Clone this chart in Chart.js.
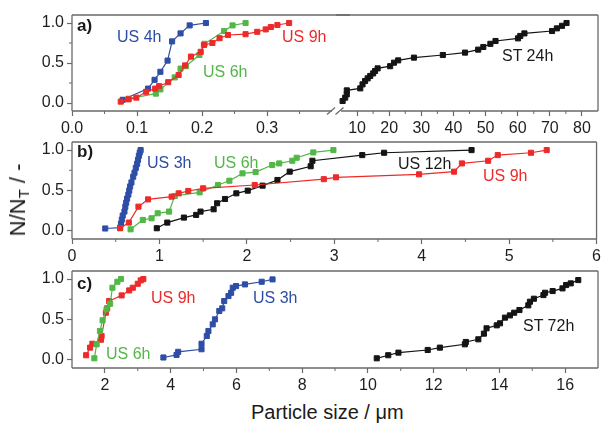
<!DOCTYPE html>
<html>
<head>
<meta charset="utf-8">
<script src="https://cdn.jsdelivr.net/npm/chart.js@4.4.1/dist/chart.umd.min.js"></script>
<style>
  body { margin: 0; background: #fff; }
  #wrap { position: relative; width: 604px; height: 423px; overflow: hidden; font-family: "Liberation Sans", Arial, sans-serif; color: #1a1a1a; }
  canvas { position: absolute; }
  .t { position: absolute; font-size: 16px; line-height: 1; white-space: nowrap; }
  .p { position: absolute; font-size: 17px; font-weight: bold; line-height: 1; }
  #ytitle { position: absolute; left: 19px; top: 200px; font-size: 22px; line-height: 1; white-space: nowrap; transform: translate(-50%, -50%) rotate(-90deg); }
  #ytitle sub { font-size: 15px; vertical-align: -4px; }
  #xtitle { position: absolute; left: 251px; top: 402px; font-size: 20px; line-height: 1; white-space: nowrap; }
</style>
</head>
<body>
<div id="wrap">
  <canvas id="aLeft" width="350" height="140" style="left:0;top:0"></canvas>
  <canvas id="aRight" width="268" height="140" style="left:336px;top:0"></canvas>
  <canvas id="chartB" width="604" height="140" style="left:0;top:128px"></canvas>
  <canvas id="chartC" width="604" height="140" style="left:0;top:257px"></canvas>

  <div class="p" style="left:77px;top:17px">a)</div>
  <div class="t" style="left:117px;top:29px;color:#2e4ea6">US 4h</div>
  <div class="t" style="left:282px;top:29px;color:#ed2a2a">US 9h</div>
  <div class="t" style="left:203px;top:64px;color:#52b747">US 6h</div>
  <div class="t" style="left:502px;top:48px">ST 24h</div>

  <div class="p" style="left:77px;top:143px">b)</div>
  <div class="t" style="left:147px;top:155px;color:#2e4ea6">US 3h</div>
  <div class="t" style="left:214px;top:155px;color:#52b747">US 6h</div>
  <div class="t" style="left:398px;top:156px">US 12h</div>
  <div class="t" style="left:483px;top:168px;color:#ed2a2a">US 9h</div>

  <div class="p" style="left:77px;top:275px">c)</div>
  <div class="t" style="left:151px;top:290px;color:#ed2a2a">US 9h</div>
  <div class="t" style="left:253px;top:290px;color:#2e4ea6">US 3h</div>
  <div class="t" style="left:106px;top:346px;color:#52b747">US 6h</div>
  <div class="t" style="left:523px;top:318px">ST 72h</div>

  <div id="ytitle">N/N<sub>T</sub> / -</div>
  <div id="xtitle">Particle size / &mu;m</div>
</div>
<script>
const BLUE = '#2e4ea6', RED = '#ed2a2a', GREEN = '#52b747', BLACK = '#141414';
const AXIS = '#6a6a6a';

// y axis (all panels)
const yTicks = [0, 0.5, 1.0];
const yMinor = [0.25, 0.75];

// panel a, left segment (0 - 0.4 um)
const aLeftTicks = [0.0, 0.1, 0.2, 0.3];
const aLeftMinor = [0.05, 0.15, 0.25, 0.35];
const a_US4h = [[0.078,0.04],[0.117,0.18],[0.127,0.29],[0.136,0.39],[0.147,0.53],[0.154,0.77],[0.167,0.87],[0.181,0.97],[0.206,1.0]];
const a_US6h = [[0.087,0.054],[0.129,0.117],[0.136,0.17],[0.158,0.32],[0.167,0.43],[0.175,0.46],[0.196,0.60],[0.204,0.74],[0.234,0.90],[0.247,0.97],[0.267,1.0]];
const a_US9h = [[0.075,0.017],[0.087,0.046],[0.099,0.067],[0.114,0.14],[0.128,0.18],[0.134,0.21],[0.148,0.26],[0.164,0.35],[0.174,0.47],[0.183,0.58],[0.198,0.64],[0.203,0.725],[0.216,0.75],[0.227,0.81],[0.24,0.85],[0.267,0.86],[0.285,0.89],[0.298,0.92],[0.306,0.95],[0.316,0.975],[0.334,1.0]];

// panel a, right segment (5 - 85 um)
const aRightTicks = [10, 20, 30, 40, 50, 60, 70, 80];
const aRightMinor = [15, 25, 35, 45, 55, 65, 75];
const a_ST24h = [[5.5,0.025],[6.3,0.067],[6.8,0.108],[6.8,0.158],[11.0,0.183],[11.7,0.233],[12.5,0.275],[13.3,0.308],[14.1,0.338],[15.0,0.37],[15.6,0.4],[16.4,0.433],[20.3,0.46],[21.5,0.504],[22.8,0.533],[27.7,0.567],[36.7,0.6],[43.6,0.63],[47.7,0.667],[49.3,0.70],[51.5,0.74],[53.1,0.775],[60.1,0.808],[60.8,0.838],[62.1,0.87],[70.7,0.9],[72.2,0.933],[73.8,0.965],[75.2,1.0]];

// panel b
const bTicks = [0, 1, 2, 3, 4, 5, 6];
const bMinor = [0.5, 1.5, 2.5, 3.5, 4.5, 5.5];
const b_US3h = [[0.38,0.03],[0.55,0.04],[0.56,0.09],[0.57,0.14],[0.58,0.19],[0.6,0.24],[0.61,0.3],[0.62,0.35],[0.63,0.4],[0.645,0.45],[0.655,0.5],[0.665,0.55],[0.68,0.6],[0.7,0.67],[0.715,0.72],[0.73,0.78],[0.745,0.83],[0.755,0.88],[0.765,0.93],[0.775,0.97],[0.785,1.0]];
const b_US6h = [[0.67,0.02],[0.81,0.136],[0.91,0.156],[0.98,0.218],[1.11,0.239],[1.175,0.432],[1.46,0.477],[1.67,0.568],[1.80,0.621],[1.95,0.712],[2.10,0.728],[2.29,0.815],[2.37,0.835],[2.52,0.868],[2.57,0.905],[2.76,0.971],[2.99,1.0]];
const b_US9h = [[0.55,0.033],[0.65,0.103],[0.76,0.30],[0.87,0.39],[1.14,0.424],[1.22,0.465],[1.33,0.494],[1.50,0.527],[2.09,0.568],[2.88,0.64],[3.02,0.663],[3.97,0.70],[4.37,0.733],[4.46,0.835],[4.76,0.868],[4.87,0.938],[5.25,0.967],[5.43,1.0]];
const b_US12h = [[0.97,0.033],[1.09,0.103],[1.28,0.165],[1.42,0.198],[1.47,0.239],[1.62,0.268],[1.66,0.342],[1.75,0.395],[1.88,0.465],[2.01,0.498],[2.18,0.56],[2.35,0.63],[2.49,0.733],[2.73,0.80],[2.75,0.868],[3.32,0.938],[3.57,0.967],[4.57,1.0]];

// panel c
const cTicks = [2, 4, 6, 8, 10, 12, 14, 16];
const cMinor = [3, 5, 7, 9, 11, 13, 15];
const c_US3h = [[3.78,0.03],[4.18,0.062],[4.23,0.1],[4.94,0.132],[4.94,0.2],[5.10,0.296],[5.15,0.358],[5.28,0.44],[5.35,0.502],[5.48,0.605],[5.57,0.638],[5.63,0.728],[5.76,0.79],[5.84,0.83],[5.89,0.893],[5.99,0.914],[6.26,0.934],[6.77,0.967],[7.1,0.996]];
const c_US6h = [[1.68,0.02],[1.75,0.193],[1.85,0.358],[1.93,0.49],[2.05,0.626],[2.16,0.695],[2.23,0.893],[2.38,0.967],[2.49,1.0]];
const c_US9h = [[1.43,0.058],[1.55,0.152],[1.62,0.2],[1.88,0.25],[1.90,0.296],[2.03,0.584],[2.07,0.638],[2.13,0.728],[2.51,0.798],[2.74,0.86],[2.85,0.893],[3.0,0.942],[3.09,0.984],[3.17,1.0]];
const c_ST72h = [[10.27,0.02],[10.62,0.058],[10.93,0.09],[11.82,0.123],[12.19,0.152],[12.95,0.193],[12.98,0.222],[13.36,0.255],[13.53,0.325],[13.61,0.391],[13.92,0.428],[14.02,0.453],[14.17,0.523],[14.32,0.551],[14.45,0.584],[14.61,0.617],[14.88,0.675],[14.93,0.72],[15.05,0.757],[15.34,0.802],[15.39,0.831],[15.62,0.852],[15.92,0.885],[16.03,0.926],[16.17,0.947],[16.40,0.988]];

const tickFont = { family: '"Liberation Sans", Arial, sans-serif', size: 16 };

// frame lines, minor ticks and the axis break
const frame = {
  id: 'frame',
  afterDraw(chart, args, o) {
    const ctx = chart.ctx, a = chart.chartArea;
    ctx.save();
    ctx.strokeStyle = AXIS;
    ctx.lineWidth = 1.3;
    ctx.beginPath();
    const s = o.sides || 'ltrb';
    const tl = o.topFrom0 ? 0 : a.left, tr = o.topToEnd ? chart.width : a.right;
    if (s.includes('t')) { ctx.moveTo(tl, a.top); ctx.lineTo(tr, a.top); }
    if (s.includes('b')) { ctx.moveTo(a.left, a.bottom); ctx.lineTo(a.right, a.bottom); }
    if (s.includes('l')) { ctx.moveTo(a.left, a.top); ctx.lineTo(a.left, a.bottom); }
    if (s.includes('r')) { ctx.moveTo(a.right, a.top); ctx.lineTo(a.right, a.bottom); }
    ctx.stroke();

    ctx.lineWidth = 1;
    ctx.beginPath();
    (o.xMinor || []).forEach(v => {
      const px = chart.scales.x.getPixelForValue(v);
      ctx.moveTo(px, a.bottom); ctx.lineTo(px, a.bottom + 3);
    });
    if (o.yMinor) {
      o.yMinor.forEach(v => {
        const py = chart.scales.y.getPixelForValue(v);
        ctx.moveTo(a.left - 3, py); ctx.lineTo(a.left, py);
      });
    }
    ctx.stroke();

    if (o.breakMarks) {
      ctx.lineWidth = 1.2;
      ctx.beginPath();
      [a.right - 1, a.right + 7.5].forEach(x => {
        ctx.moveTo(x - 4, a.bottom + 3.5); ctx.lineTo(x + 4, a.bottom - 3.5);
      });
      ctx.stroke();
    }
    ctx.restore();
  }
};

function makeChart(id, o) {
  return new Chart(document.getElementById(id), {
    type: 'line',
    data: {
      datasets: o.series.map(s => ({
        data: s.pts.map(p => ({ x: p[0], y: p[1] })),
        borderColor: s.color,
        backgroundColor: s.color,
        pointBorderColor: s.color,
        borderWidth: 1.2,
        pointStyle: 'rect',
        pointRadius: 3.6,
        pointBorderWidth: 1,
        tension: 0,
        clip: false
      }))
    },
    options: {
      responsive: false,
      animation: false,
      devicePixelRatio: 1,
      events: [],
      layout: { padding: o.pad },
      plugins: {
        legend: { display: false },
        tooltip: { enabled: false },
        frame: o.frame
      },
      scales: {
        x: {
          type: 'linear',
          min: o.xMin,
          max: o.xMax,
          afterBuildTicks: s => { s.ticks = o.xTicks.map(v => ({ value: v })); },
          afterFit: s => { s.height = 29; },
          ticks: { font: tickFont, color: '#1e1e1e', padding: 3, maxRotation: 0, autoSkip: false, callback: o.xFmt },
          grid: { display: true, drawOnChartArea: false, drawTicks: true, tickLength: 5, tickColor: AXIS, tickWidth: 1.2 },
          border: { display: false }
        },
        y: {
          type: 'linear',
          min: -0.1,
          max: 1.1,
          display: o.yShow,
          afterBuildTicks: s => { s.ticks = yTicks.map(v => ({ value: v })); },
          afterFit: s => { s.width = o.yShow ? 72 : 0; },
          ticks: { font: tickFont, color: '#1e1e1e', padding: 3, autoSkip: false, callback: v => v.toFixed(1) },
          grid: { display: true, drawOnChartArea: false, drawTicks: true, tickLength: 5, tickColor: AXIS, tickWidth: 1.2 },
          border: { display: false }
        }
      }
    },
    plugins: [frame]
  });
}

makeChart('aLeft', {
  pad: { left: 0, right: 18, top: 15, bottom: 0 },
  xMin: 0, xMax: 0.4, xTicks: aLeftTicks, xFmt: v => v.toFixed(1), yShow: true,
  frame: { sides: 'ltb', topToEnd: true, xMinor: aLeftMinor, yMinor: yMinor, breakMarks: true },
  series: [
    { pts: a_US9h, color: RED },
    { pts: a_US6h, color: GREEN },
    { pts: a_US4h, color: BLUE }
  ]
});

makeChart('aRight', {
  pad: { left: 4, right: 6, top: 15, bottom: 0 },
  xMin: 5, xMax: 85, xTicks: aRightTicks, xFmt: v => String(v), yShow: false,
  frame: { sides: 'trb', topFrom0: true, xMinor: aRightMinor },
  series: [
    { pts: a_ST24h, color: BLACK }
  ]
});

makeChart('chartB', {
  pad: { left: 0, right: 6, top: 14, bottom: 0 },
  xMin: 0, xMax: 6, xTicks: bTicks, xFmt: v => String(v), yShow: true,
  frame: { sides: 'ltrb', xMinor: bMinor, yMinor: yMinor },
  series: [
    { pts: b_US9h, color: RED },
    { pts: b_US6h, color: GREEN },
    { pts: b_US3h, color: BLUE },
    { pts: b_US12h, color: BLACK }
  ]
});

makeChart('chartC', {
  pad: { left: 0, right: 6, top: 14, bottom: 0 },
  xMin: 1, xMax: 17, xTicks: cTicks, xFmt: v => String(v), yShow: true,
  frame: { sides: 'ltrb', xMinor: cMinor, yMinor: yMinor },
  series: [
    { pts: c_US6h, color: GREEN },
    { pts: c_US9h, color: RED },
    { pts: c_US3h, color: BLUE },
    { pts: c_ST72h, color: BLACK }
  ]
});
</script>
</body>
</html>
